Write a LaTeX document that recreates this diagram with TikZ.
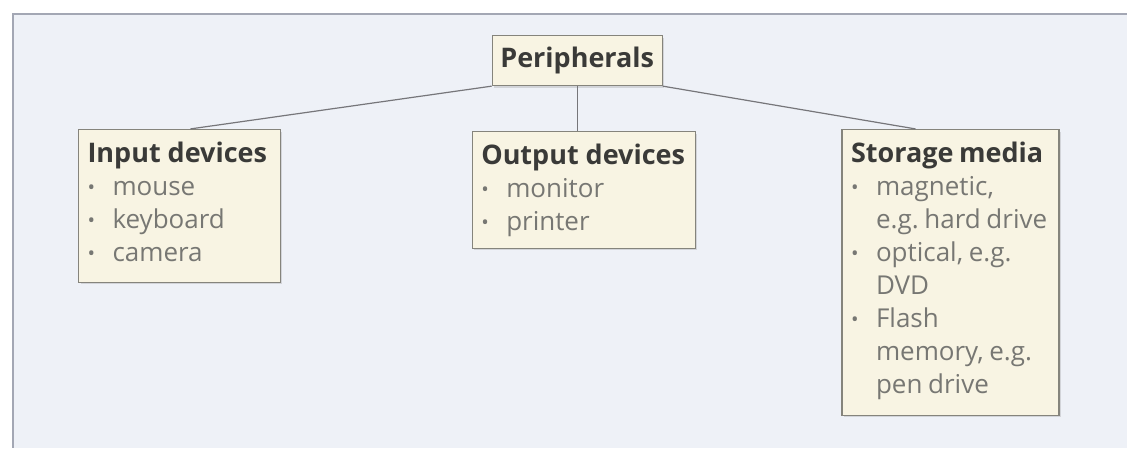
\documentclass[tikz,border=0pt]{standalone}
\usepackage{fontspec}
\setmainfont{Open Sans}
\usetikzlibrary{shadows}
\definecolor{bgblue}{HTML}{EEF1F7}
\definecolor{frameline}{HTML}{A3A7B4}
\definecolor{boxfill}{HTML}{F8F4E3}
\definecolor{boxline}{HTML}{85847C}
\definecolor{titletext}{HTML}{3A3A38}
\definecolor{itemtext}{HTML}{777773}
\definecolor{linkline}{HTML}{76767A}
\frenchspacing
\newcommand{\itm}[1]{\mbox{\makebox[25pt][l]{\raisebox{1pt}{\fontsize{20}{20}\selectfont\textbullet}}#1}}
\newcommand{\cnt}[1]{\mbox{\hspace*{25pt}#1}}
\newcommand{\ttl}[1]{\rule{0pt}{24pt}{\fontsize{27}{33}\selectfont\bfseries\color{titletext}#1}}
\begin{document}
\begin{tikzpicture}[x=1pt,y=-1pt,
    devbox/.style={draw=boxline,fill=boxfill,line width=1.2pt,anchor=north west,inner xsep=9pt,inner ysep=9pt,
      drop shadow={shadow xshift=2pt,shadow yshift=-2pt,opacity=.25},font=\fontsize{26}{33}\selectfont,text=itemtext},
    link/.style={draw=linkline,line width=1.2pt}]
    \fill[white] (0,0) rectangle (1128,448);
    \fill[bgblue] (13,14) rectangle (1128,448);
    \draw[frameline,line width=1.5pt] (13,448) -- (13,14) -- (1128,14);
    \node[devbox,minimum width=170pt,minimum height=50pt,inner sep=0pt,text=titletext,font=\fontsize{27}{30}\selectfont\bfseries] (peri) at (492,35) {Peripherals};
    \node[devbox] (input) at (78,129) {\begin{minipage}[t][135pt][t]{184pt}
        \ttl{Input devices}\\ \itm{mouse}\\ \itm{keyboard}\\ \itm{camera}
      \end{minipage}};
    \node[devbox] (outp) at (472,131) {\begin{minipage}[t][99pt][t]{205pt}
        \ttl{Output devices}\\ \itm{monitor}\\ \itm{printer}
      \end{minipage}};
    \node[devbox] (stor) at (842,129) {\begin{minipage}[t][268pt][t]{199pt}\spaceskip=.22em plus .1em
        \ttl{Storage media}\\ \itm{magnetic,}\\ \cnt{e.g. hard drive}\\ \itm{optical, e.g.}\\ \cnt{DVD}\\
        \itm{Flash}\\ \cnt{memory, e.g.}\\ \cnt{pen drive}
      \end{minipage}};
    \draw[link] (peri.south west) -- ([xshift=11pt]input.north);
    \draw[link] (peri.south) -- (peri.south |- outp.north);
    \draw[link] (peri.south east) -- ([xshift=-35pt]stor.north);
\end{tikzpicture}
\end{document}
